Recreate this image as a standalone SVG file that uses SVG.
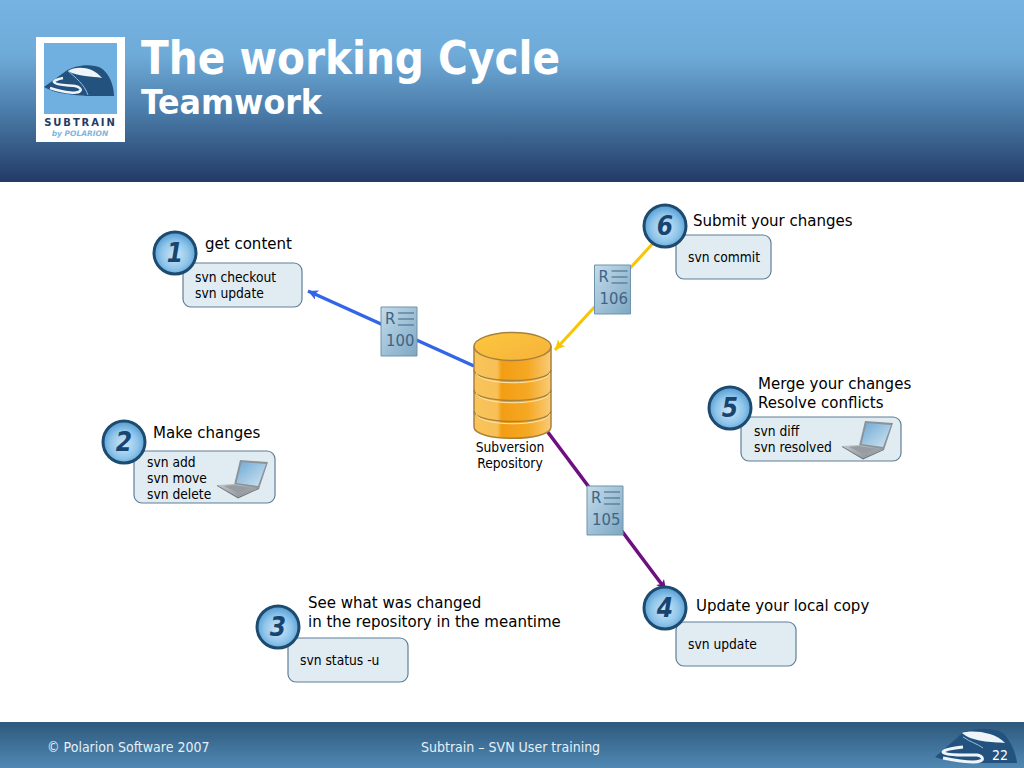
<svg xmlns="http://www.w3.org/2000/svg" width="1024" height="768" viewBox="0 0 1024 768">
<style>
text{font-family:"DejaVu Sans","Liberation Sans",sans-serif;font-stretch:condensed;fill:#000}
.t{font-size:16.700px}
.c{font-size:13.700px}
.box{fill:#e0ecf2;stroke:#5f7f98;stroke-width:1.2}
.num{font-size:26px;font-weight:bold;font-style:italic;fill:#174570;text-anchor:middle}
.bub{fill:url(#bubble);stroke:#1d4b70;stroke-width:3}
.rb{fill:url(#rev);stroke:#6f93ab;stroke-width:1}
.rt{fill:#3f6485;font-size:16.500px}
.rl{stroke:#3f6485;stroke-width:1.2;fill:none}
.ft{font-size:14px;fill:#e6f0f7}
</style>
<defs>
<linearGradient id="hdr" x1="0" y1="0" x2="0" y2="1"><stop offset="0" stop-color="#75b3e2"/><stop offset=".3" stop-color="#6fabd9"/><stop offset=".62" stop-color="#4a7ba8"/><stop offset="1" stop-color="#233a66"/></linearGradient>
<linearGradient id="ftr" x1="0" y1="0" x2="0" y2="1"><stop offset="0" stop-color="#2e587c"/><stop offset="1" stop-color="#5089b4"/></linearGradient>
<radialGradient id="bubble" cx=".5" cy=".55" r=".6"><stop offset="0" stop-color="#cfe7f8"/><stop offset=".55" stop-color="#8fc5ea"/><stop offset="1" stop-color="#4290cb"/></radialGradient>
<linearGradient id="rev" x1="0" y1="0" x2="1" y2="1"><stop offset="0" stop-color="#c3dcec"/><stop offset="1" stop-color="#7ea7c2"/></linearGradient>
<linearGradient id="cyl" x1="0" y1="0" x2="1" y2="0"><stop offset="0" stop-color="#f9c45a"/><stop offset=".3" stop-color="#f8c057"/><stop offset=".36" stop-color="#f39d14"/><stop offset=".7" stop-color="#f5a823"/><stop offset="1" stop-color="#f9cb78"/></linearGradient>
<linearGradient id="cyltop" x1="0" y1="0" x2="1" y2="1"><stop offset="0" stop-color="#fcc73f"/><stop offset="1" stop-color="#f7b23a"/></linearGradient>
<linearGradient id="scr" x1="0" y1="0" x2="1" y2="1"><stop offset="0" stop-color="#6fa9d3"/><stop offset="1" stop-color="#d2e6f3"/></linearGradient>
<linearGradient id="kb" x1="0" y1="0" x2="1" y2="1"><stop offset="0" stop-color="#c4c8cb"/><stop offset="1" stop-color="#83898e"/></linearGradient>
<marker id="ab" markerUnits="userSpaceOnUse" markerWidth="12" markerHeight="12" refX="10" refY="5" orient="auto"><path d="M0,0L10,5L0,10L2.500,5Z" fill="#3366e6"/></marker>
<marker id="ay" markerUnits="userSpaceOnUse" markerWidth="12" markerHeight="12" refX="10" refY="5" orient="auto"><path d="M0,0L10,5L0,10L2.500,5Z" fill="#f7c600"/></marker>
<marker id="ap" markerUnits="userSpaceOnUse" markerWidth="12" markerHeight="12" refX="10" refY="5" orient="auto"><path d="M0,0L10,5L0,10L2.500,5Z" fill="#6d0f80"/></marker>
<g id="laptop">
<path d="M24,0L52,2L43,29L18,25Z" fill="#8b9298"/>
<path d="M25.500,2L50,4L42,26L20.500,23Z" fill="url(#scr)"/>
<path d="M1,25L18,24L43,28L22,37Z" fill="url(#kb)"/>
<path d="M8,26L18,25L35,28L22,33Z" fill="#969ca1"/>
<path d="M1,25L22,37L43,28L43,29L22,38.500L1,26Z" fill="#6f767c"/>
</g>
<g id="repoMark"><path d="M0,0H36V49H0Z" class="rb"/><path class="rl" d="M17,6H33M17,12H33M17,18H33"/></g>
</defs>

<g id="header">
<rect x="0" y="0" width="1024" height="182" fill="url(#hdr)"/>
<text x="141" y="74" textLength="419" lengthAdjust="spacingAndGlyphs" style="font-size:46px;font-weight:bold;fill:#fff">The working Cycle</text>
<text x="141" y="114" textLength="181" lengthAdjust="spacingAndGlyphs" style="font-size:34px;font-weight:bold;fill:#fff">Teamwork</text>
</g>
<g id="logo">
<rect x="36" y="37" width="89" height="105" fill="#fff"/>
<rect x="44" y="43" width="73" height="71" fill="#6fb0e0"/>
<path d="M44,87L66,71C74,65 92,63 101,68C109,73 114,85 114,96H87C75,95 55,94 44,87Z" fill="#24527f"/>
<path d="M68,71C76,66 92,66 102,78C92,76 78,77 68,71Z" fill="#eef5fa"/>
<path d="M68,71C76,78 84,84 88,95" fill="none" stroke="#8fbfe3" stroke-width="1"/>
<path d="M63,78C58,79 53,81 54,82C56,86 70,85 75,86C80,87 82,90 80,91C78,94 66,93 50,88" fill="none" stroke="#eef5fa" stroke-width="2.500"/>
<text x="80.500" y="126" text-anchor="middle" style="font-size:10px;font-weight:bold;fill:#1f3c66;letter-spacing:1.900px;font-stretch:normal">SUBTRAIN</text>
<text x="80" y="135.500" text-anchor="middle" style="font-size:7.500px;font-weight:bold;font-style:italic;fill:#7fb6e0;font-stretch:normal">by POLARION</text>
</g>

<g id="connectors" fill="none">
<path d="M474,366L308,291" stroke="#3366e6" stroke-width="3.500" marker-end="url(#ab)"/>
<path d="M656,240L555,350" stroke="#f7c600" stroke-width="3" marker-end="url(#ay)"/>
<path d="M547,431L666,590" stroke="#6d0f80" stroke-width="3.500" marker-end="url(#ap)"/>
</g>

<g id="rev100"><use href="#repoMark" x="381" y="307"/><text x="385" y="324" class="rt">R</text><text x="386" y="346" class="rt">100</text></g>
<g id="rev106"><use href="#repoMark" x="594.500" y="265"/><text x="598.500" y="282" class="rt">R</text><text x="599.500" y="304" class="rt">106</text></g>
<g id="rev105"><use href="#repoMark" x="587" y="486"/><text x="591" y="503" class="rt">R</text><text x="592" y="525" class="rt">105</text></g>

<g id="repository">
<path d="M474,347V427C474,442 551,442 551,427V347Z" fill="url(#cyl)" stroke="#a8813a" stroke-width="1.500"/>
<path d="M474,370C474,384 551,384 551,370M474,390C474,404 551,404 551,390M474,411C474,425 551,425 551,411" fill="none" stroke="#a8813a" stroke-width="1.500"/>
<path d="M476,373C480,386 546,386 550,373M476,393C480,406 546,406 550,393M476,414C480,427 546,427 550,414" fill="none" stroke="#fde6b0" stroke-width="1"/>
<ellipse cx="512.500" cy="346.500" rx="38.500" ry="14" fill="url(#cyltop)" stroke="#a8813a" stroke-width="1.500"/>
<text x="510" y="452" text-anchor="middle" class="c">Subversion</text>
<text x="510" y="468" text-anchor="middle" class="c">Repository</text>
</g>

<g id="step1">
<rect x="183" y="263" width="119" height="44" rx="8" class="box"/>
<circle cx="175" cy="253" r="21" class="bub"/><text x="175" y="262" class="num">1</text>
<text x="205" y="249" class="t">get content</text>
<text x="195" y="282" class="c">svn checkout</text><text x="195" y="298" class="c">svn update</text>
</g>
<g id="step2">
<rect x="134" y="451" width="141" height="52" rx="8" class="box"/>
<circle cx="124" cy="442" r="21" class="bub"/><text x="124" y="451" class="num">2</text>
<text x="153" y="438" class="t">Make changes</text>
<text x="147" y="467" class="c">svn add</text><text x="147" y="483" class="c">svn move</text><text x="147" y="499" class="c">svn delete</text>
<use href="#laptop" x="216" y="460"/>
</g>
<g id="step3">
<rect x="288" y="638" width="120" height="44" rx="8" class="box"/>
<circle cx="278" cy="627" r="21" class="bub"/><text x="278" y="636" class="num">3</text>
<text x="308" y="608" class="t">See what was changed</text><text x="308" y="627" class="t">in the repository in the meantime</text>
<text x="300" y="665" class="c">svn status -u</text>
</g>
<g id="step4">
<rect x="676" y="622" width="120" height="44" rx="8" class="box"/>
<circle cx="665" cy="608" r="21" class="bub"/><text x="665" y="617" class="num">4</text>
<text x="696" y="611" class="t">Update your local copy</text>
<text x="688" y="649" class="c">svn update</text>
</g>
<g id="step5">
<rect x="741" y="417" width="160" height="44" rx="8" class="box"/>
<circle cx="730" cy="408" r="21" class="bub"/><text x="730" y="417" class="num">5</text>
<text x="758" y="389" class="t">Merge your changes</text><text x="758" y="408" class="t">Resolve conflicts</text>
<text x="754" y="436" class="c">svn diff</text><text x="754" y="452" class="c">svn resolved</text>
<use href="#laptop" x="841" y="421"/>
</g>
<g id="step6">
<rect x="676" y="235" width="95" height="44" rx="8" class="box"/>
<circle cx="665" cy="226" r="21" class="bub"/><text x="665" y="235" class="num">6</text>
<text x="693" y="226" class="t">Submit your changes</text>
<text x="688" y="262" class="c">svn commit</text>
</g>

<g id="footer">
<rect x="0" y="722" width="1024" height="46" fill="url(#ftr)"/>
<text x="47" y="752" class="ft">© Polarion Software 2007</text>
<text x="421" y="752" class="ft">Subtrain – SVN User training</text>
<path d="M935,757L958,737C965,728 990,726 1003,733C1010,740 1016,752 1017,763H985C970,763 948,762 935,757Z" fill="#24527f"/>
<path d="M962,733C970,730 994,731 1005,743C992,742 972,742 962,733Z" fill="#eef5fa"/>
<path d="M963,737C970,742 978,744 983,748" fill="none" stroke="#8fbfe3" stroke-width="1"/>
<path d="M963,747C953,748 943,750 943,752C945,756 970,755 977,755C983,756 984,760 980,761C975,763 958,761 943,758" fill="none" stroke="#eef5fa" stroke-width="3"/>
<text x="992" y="760" class="ft" style="fill:#fff">22</text>
</g>
</svg>
